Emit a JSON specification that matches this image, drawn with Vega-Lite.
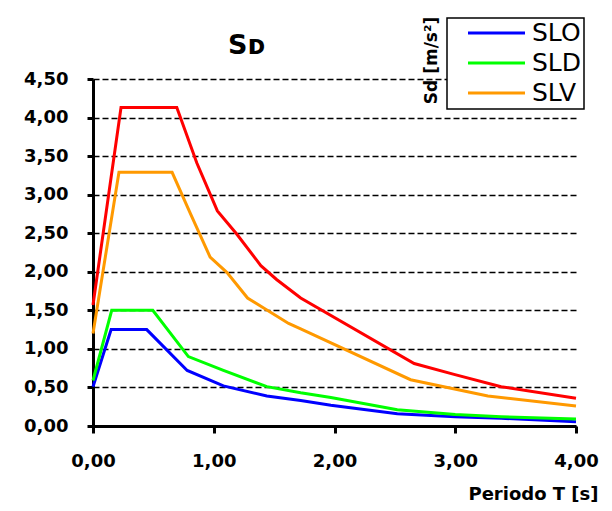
{
  "$schema": "https://vega.github.io/schema/vega-lite/v6.json",
  "width": 483,
  "height": 347,
  "autosize": {"type": "none"},
  "padding": {"left": 93, "top": 79, "right": 36, "bottom": 85},
  "background": "white",
  "title": {
    "text": "Sᴅ",
    "anchor": "start",
    "frame": "group",
    "dx": 135,
    "offset": -65,
    "baseline": "alphabetic",
    "font": "DejaVu Sans",
    "fontSize": 27,
    "fontWeight": "bold",
    "color": "black"
  },
  "data": {
    "values": [
      {"s": "SLO", "T": 0.0, "Sd": 0.51},
      {"s": "SLO", "T": 0.15, "Sd": 1.25},
      {"s": "SLO", "T": 0.445, "Sd": 1.25},
      {"s": "SLO", "T": 0.78, "Sd": 0.72},
      {"s": "SLO", "T": 1.08, "Sd": 0.52},
      {"s": "SLO", "T": 1.44, "Sd": 0.39},
      {"s": "SLO", "T": 1.72, "Sd": 0.33},
      {"s": "SLO", "T": 1.97, "Sd": 0.27},
      {"s": "SLO", "T": 2.52, "Sd": 0.16},
      {"s": "SLO", "T": 3.0, "Sd": 0.12},
      {"s": "SLO", "T": 3.38, "Sd": 0.1},
      {"s": "SLO", "T": 4.0, "Sd": 0.055},
      {"s": "SLD", "T": 0.0, "Sd": 0.59},
      {"s": "SLD", "T": 0.155, "Sd": 1.5},
      {"s": "SLD", "T": 0.495, "Sd": 1.5},
      {"s": "SLD", "T": 0.79, "Sd": 0.9},
      {"s": "SLD", "T": 1.08, "Sd": 0.72},
      {"s": "SLD", "T": 1.44, "Sd": 0.51},
      {"s": "SLD", "T": 1.72, "Sd": 0.43},
      {"s": "SLD", "T": 1.97, "Sd": 0.37},
      {"s": "SLD", "T": 2.52, "Sd": 0.21},
      {"s": "SLD", "T": 3.0, "Sd": 0.15},
      {"s": "SLD", "T": 3.38, "Sd": 0.12},
      {"s": "SLD", "T": 4.0, "Sd": 0.09},
      {"s": "SLV", "T": 0.0, "Sd": 1.2},
      {"s": "SLV", "T": 0.215, "Sd": 3.29},
      {"s": "SLV", "T": 0.655, "Sd": 3.29},
      {"s": "SLV", "T": 0.805, "Sd": 2.76},
      {"s": "SLV", "T": 0.97, "Sd": 2.19},
      {"s": "SLV", "T": 1.11, "Sd": 1.99},
      {"s": "SLV", "T": 1.28, "Sd": 1.66},
      {"s": "SLV", "T": 1.62, "Sd": 1.33},
      {"s": "SLV", "T": 1.72, "Sd": 1.26},
      {"s": "SLV", "T": 2.63, "Sd": 0.6},
      {"s": "SLV", "T": 3.27, "Sd": 0.39},
      {"s": "SLV", "T": 4.0, "Sd": 0.26},
      {"s": "SLC", "T": 0.0, "Sd": 1.57},
      {"s": "SLC", "T": 0.232, "Sd": 4.13},
      {"s": "SLC", "T": 0.694, "Sd": 4.13},
      {"s": "SLC", "T": 0.86, "Sd": 3.41},
      {"s": "SLC", "T": 1.03, "Sd": 2.79},
      {"s": "SLC", "T": 1.19, "Sd": 2.49},
      {"s": "SLC", "T": 1.39, "Sd": 2.08},
      {"s": "SLC", "T": 1.52, "Sd": 1.9},
      {"s": "SLC", "T": 1.72, "Sd": 1.66},
      {"s": "SLC", "T": 2.66, "Sd": 0.81},
      {"s": "SLC", "T": 2.99, "Sd": 0.67},
      {"s": "SLC", "T": 3.38, "Sd": 0.51},
      {"s": "SLC", "T": 4.0, "Sd": 0.36}
    ]
  },
  "mark": {"type": "line", "strokeWidth": 3},
  "encoding": {
    "x": {
      "field": "T",
      "type": "quantitative",
      "scale": {"domain": [0, 4], "nice": false},
      "axis": {
        "values": [0, 1, 2, 3, 4],
        "labelExpr": "replace(format(datum.value, '.2f'), '.', ',')",
        "labelFlush": false,
        "labelFont": "DejaVu Sans",
        "labelFontSize": 18,
        "labelFontWeight": "bold",
        "labelColor": "black",
        "labelPadding": 19,
        "tickSize": 7,
        "tickWidth": 3,
        "tickColor": "black",
        "domainColor": "black",
        "domainWidth": 3,
        "grid": false,
        "title": "Periodo T [s]",
        "titleFont": "DejaVu Sans",
        "titleFontSize": 18,
        "titleFontWeight": "bold",
        "titleColor": "black",
        "titleAnchor": "end",
        "titleAlign": "right",
        "titleX": 505,
        "titleY": 73,
        "titleBaseline": "alphabetic"
      }
    },
    "y": {
      "field": "Sd",
      "type": "quantitative",
      "scale": {"domain": [0, 4.5], "nice": false},
      "axis": {
        "values": [0, 0.5, 1, 1.5, 2, 2.5, 3, 3.5, 4, 4.5],
        "labelExpr": "replace(format(datum.value, '.2f'), '.', ',')",
        "labelFlush": false,
        "labelFont": "DejaVu Sans",
        "labelFontSize": 18,
        "labelFontWeight": "bold",
        "labelColor": "black",
        "labelPadding": 19,
        "tickSize": 6,
        "tickWidth": 3,
        "tickColor": "black",
        "domainColor": "black",
        "domainWidth": 3,
        "grid": true,
        "gridColor": "black",
        "gridDash": [6, 3],
        "gridWidth": 1.5,
        "title": "Sd [m/s²]",
        "titleFont": "DejaVu Sans",
        "titleFontSize": 17,
        "titleFontWeight": "bold",
        "titleColor": "black",
        "titleAngle": 270,
        "titleAlign": "center",
        "titleBaseline": "middle",
        "titleX": 338,
        "titleY": -19
      }
    },
    "color": {
      "field": "s",
      "type": "nominal",
      "scale": {
        "domain": ["SLO", "SLD", "SLV", "SLC"],
        "range": ["#0000FF", "#00FF00", "#FF9900", "#FF0000"]
      },
      "legend": {
        "values": ["SLO", "SLD", "SLV"],
        "orient": "none",
        "legendX": 354,
        "legendY": -61,
        "title": null,
        "symbolType": "M-3,0H3",
        "symbolSize": 361,
        "symbolStrokeWidth": 3,
        "symbolOffset": 34.5,
        "labelFont": "DejaVu Sans",
        "labelFontSize": 25,
        "labelColor": "black",
        "labelOffset": 23,
        "labelExpr": "datum.label + '  '",
        "rowPadding": 4,
        "padding": 2.5,
        "strokeColor": "black",
        "fillColor": "white",
        "encode": {"legend": {"update": {"strokeWidth": {"value": 1.5}}}}
      }
    }
  },
  "config": {"view": {"stroke": null}}
}
